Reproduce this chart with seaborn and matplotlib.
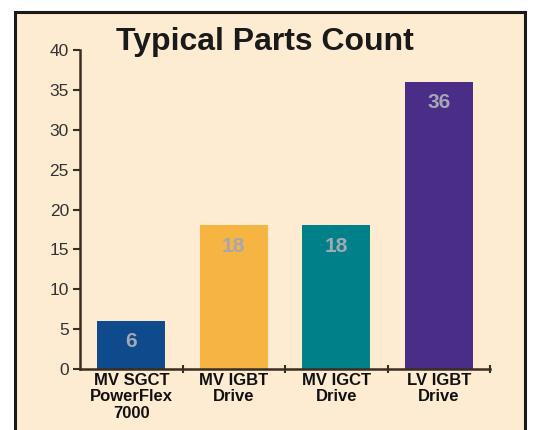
import matplotlib
matplotlib.use("Agg")
import matplotlib.pyplot as plt
from matplotlib.patches import Rectangle
import pandas as pd
import seaborn as sns

# chart data
categories = ["MV SGCT\nPowerFlex\n7000", "MV IGBT\nDrive", "MV IGCT\nDrive", "LV IGBT\nDrive"]
parts = [6, 18, 18, 36]
bar_colors = ["#0E4A8C", "#F6B443", "#008089", "#4A2D87"]
y_ticks = [0, 5, 10, 15, 20, 25, 30, 35, 40]

sns.set_style("white")
plt.rcParams["font.family"] = ["Liberation Sans", "DejaVu Sans"]

df = pd.DataFrame({"category": categories, "parts": parts})

fig = plt.figure(figsize=(5.39, 4.30), dpi=100)
fig.patch.set_facecolor("white")

# background axes holding the cream panel with dark frame
bg = fig.add_axes([0, 0, 1, 1], zorder=-1)
bg.set_xlim(0, 539)
bg.set_ylim(430, 0)
bg.axis("off")
bg.add_patch(Rectangle((15, 12), 510, 440, facecolor="#FDEBD2",
                       edgecolor="#1a1a1a", linewidth=2.2))

ax = fig.add_axes([80 / 539, 1 - 369 / 430, 410 / 539, (369 - 50) / 430])
ax.set_facecolor("none")

sns.barplot(data=df, x="category", y="parts", hue="category",
            palette=bar_colors, legend=False, width=0.66, saturation=1,
            edgecolor="none", ax=ax)

for i, v in enumerate(parts):
    ax.annotate(str(v), (i, v), xytext=(0, -8), textcoords="offset points",
                ha="center", va="top", fontsize=15, fontweight="bold",
                color="#A4A7B4")

ax.set_ylim(0, 40)
ax.set_xlim(-0.5, 3.5)
ax.set_yticks(y_ticks)
ax.set_yticklabels([str(t) for t in y_ticks], fontsize=12.5, color="#333333")
ax.set_xticks([0.5, 1.5, 2.5, 3.5], minor=False)
ax.set_xticklabels([])
ax.set_xticks([0, 1, 2, 3], minor=True)
ax.set_xticklabels(categories, minor=True, fontsize=12, fontweight="bold",
                   color="#111111", linespacing=1.1)
ax.tick_params(axis="x", which="minor", bottom=False, length=0, pad=3)
ax.tick_params(axis="x", which="major", bottom=True, length=6, width=1.5,
               direction="inout", color="#3a2e22")
ax.tick_params(axis="y", left=True, length=5, width=1.5, direction="out",
               color="#3a2e22", pad=3)
ax.set_xlabel("")
ax.set_ylabel("")

for side in ["top", "right"]:
    ax.spines[side].set_visible(False)
for side in ["left", "bottom"]:
    ax.spines[side].set_color("#3a2e22")
    ax.spines[side].set_linewidth(1.8)

fig.text(265 / 539, 1 - 42 / 430, "Typical Parts Count", ha="center",
         va="center", fontsize=23, fontweight="bold", color="#1a1a1a")

plt.savefig("out.png", dpi=100)
